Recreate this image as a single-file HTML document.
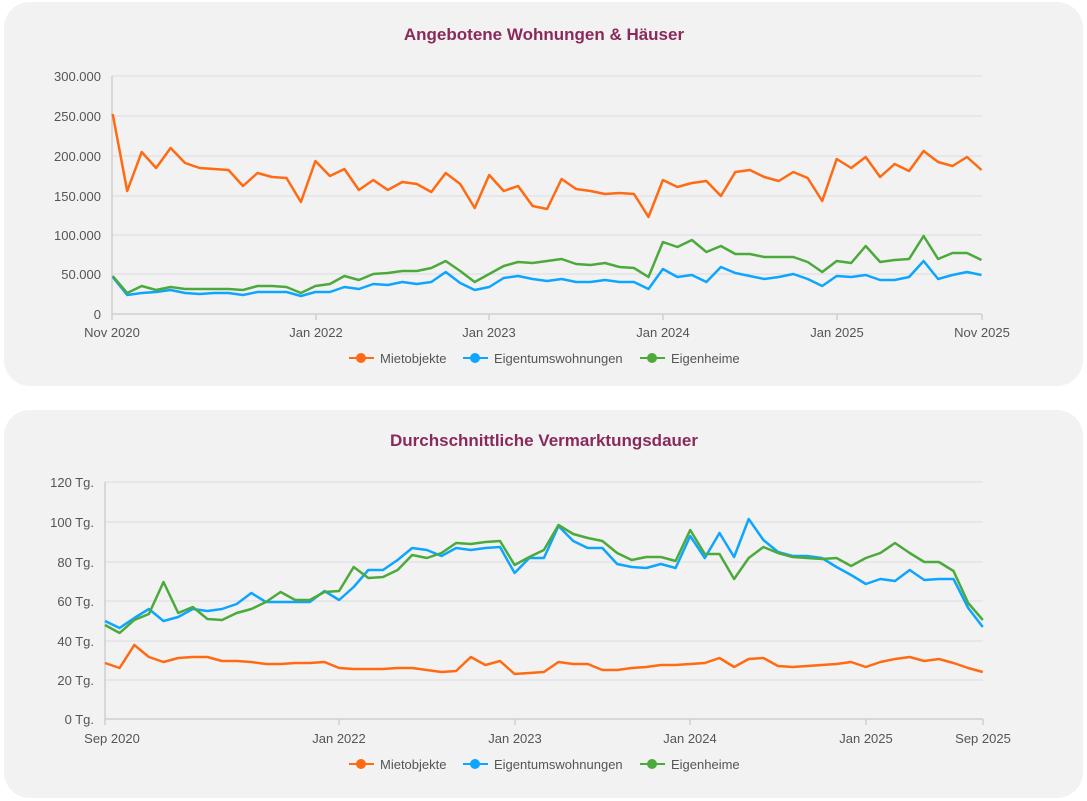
<!DOCTYPE html>
<html><head><meta charset="utf-8">
<style>
html,body{margin:0;padding:0;background:#fff;width:1087px;height:801px;overflow:hidden}
svg{display:block;font-family:"Liberation Sans",sans-serif}
</style></head><body>
<svg id="s" width="1087" height="801" viewBox="0 0 1087 801" xmlns="http://www.w3.org/2000/svg">
<rect x="4" y="2" width="1079" height="384" rx="26" fill="#f2f2f2"/>
<rect x="4" y="410" width="1079" height="388" rx="26" fill="#f2f2f2"/>
<text x="544" y="40" text-anchor="middle" font-size="17" font-weight="bold" fill="#8a2a5c">Angebotene Wohnungen &amp; Häuser</text>
<text x="544" y="446" text-anchor="middle" font-size="17" font-weight="bold" fill="#8a2a5c">Durchschnittliche Vermarktungsdauer</text>
<g id="g1" stroke="#dcdce4" stroke-width="1">
<line x1="112" x2="982" y1="76" y2="76"/><line x1="112" x2="982" y1="116" y2="116"/><line x1="112" x2="982" y1="156" y2="156"/><line x1="112" x2="982" y1="196" y2="196"/><line x1="112" x2="982" y1="235" y2="235"/><line x1="112" x2="982" y1="274" y2="274"/>
<line x1="105" x2="983" y1="482" y2="482"/><line x1="105" x2="983" y1="522" y2="522"/><line x1="105" x2="983" y1="562" y2="562"/><line x1="105" x2="983" y1="601" y2="601"/><line x1="105" x2="983" y1="641" y2="641"/><line x1="105" x2="983" y1="680" y2="680"/>
</g>
<g stroke="#cfcfcf" stroke-width="1.5">
<line x1="112" x2="982" y1="314" y2="314"/><line x1="112" x2="112" y1="76" y2="320"/>
<line x1="316" x2="316" y1="314" y2="320"/><line x1="489" x2="489" y1="314" y2="320"/><line x1="663" x2="663" y1="314" y2="320"/><line x1="837" x2="837" y1="314" y2="320"/><line x1="982" x2="982" y1="314" y2="320"/>
<line x1="105" x2="983" y1="719" y2="719"/><line x1="105" x2="105" y1="482" y2="725"/>
<line x1="339" x2="339" y1="719" y2="725"/><line x1="515" x2="515" y1="719" y2="725"/><line x1="690" x2="690" y1="719" y2="725"/><line x1="866" x2="866" y1="719" y2="725"/><line x1="983" x2="983" y1="719" y2="725"/>
</g>
<g font-size="13" fill="#555" text-anchor="end">
<text x="101" y="81">300.000</text><text x="101" y="121">250.000</text><text x="101" y="161">200.000</text><text x="101" y="201">150.000</text><text x="101" y="240">100.000</text><text x="101" y="279">50.000</text><text x="101" y="319">0</text>
<text x="94" y="487">120 Tg.</text><text x="94" y="527">100 Tg.</text><text x="94" y="567">80 Tg.</text><text x="94" y="606">60 Tg.</text><text x="94" y="646">40 Tg.</text><text x="94" y="685">20 Tg.</text><text x="94" y="724">0 Tg.</text>
</g>
<g font-size="13" fill="#555" text-anchor="middle">
<text x="112" y="337">Nov 2020</text><text x="316" y="337">Jan 2022</text><text x="489" y="337">Jan 2023</text><text x="663" y="337">Jan 2024</text><text x="837" y="337">Jan 2025</text><text x="982" y="337">Nov 2025</text>
<text x="112" y="743">Sep 2020</text><text x="339" y="743">Jan 2022</text><text x="515" y="743">Jan 2023</text><text x="690" y="743">Jan 2024</text><text x="866" y="743">Jan 2025</text><text x="983" y="743">Sep 2025</text>
</g>
<g id="leg1" font-size="13" fill="#555">
<line x1="349" x2="374" y1="358" y2="358" stroke="#ff6a13" stroke-width="2"/><circle cx="361" cy="358" r="5" fill="#ff6a13"/><text x="380" y="363">Mietobjekte</text>
<line x1="463" x2="488" y1="358" y2="358" stroke="#0ea5ff" stroke-width="2"/><circle cx="475" cy="358" r="5" fill="#0ea5ff"/><text x="494" y="363">Eigentumswohnungen</text>
<line x1="640" x2="665" y1="358" y2="358" stroke="#4caa3c" stroke-width="2"/><circle cx="652" cy="358" r="5" fill="#4caa3c"/><text x="671" y="363">Eigenheime</text>
</g>
<g font-size="13" fill="#555">
<line x1="349" x2="374" y1="764" y2="764" stroke="#ff6a13" stroke-width="2"/><circle cx="361" cy="764" r="5" fill="#ff6a13"/><text x="380" y="769">Mietobjekte</text>
<line x1="463" x2="488" y1="764" y2="764" stroke="#0ea5ff" stroke-width="2"/><circle cx="475" cy="764" r="5" fill="#0ea5ff"/><text x="494" y="769">Eigentumswohnungen</text>
<line x1="640" x2="665" y1="764" y2="764" stroke="#4caa3c" stroke-width="2"/><circle cx="652" cy="764" r="5" fill="#4caa3c"/><text x="671" y="769">Eigenheime</text>
</g>
<g id="lines" fill="none" stroke-width="2.5" stroke-linejoin="round"></g>
</svg>
<script>
var series=[
[112.7,14.48,"#ff6a13",[114,191,152,168,148,163,168,169,170,186,173,177,178,202,161,176,169,190,180,190,182,184,192,173,184,208,175,191,186,206,209,179,189,191,194,193,194,217,180,187,183,181,196,172,170,177,181,172,178,201,159,168,157,177,164,171,151,162,166,157,170]],
[112.7,14.48,"#0ea5ff",[277,295,293,292,290,293,294,293,293,295,292,292,292,296,292,292,287,289,284,285,282,284,282,272,283,290,287,278,276,279,281,279,282,282,280,282,282,289,269,277,275,282,267,273,276,279,277,274,279,286,276,277,275,280,280,277,261,279,275,272,275]],
[112.7,14.48,"#4caa3c",[276,293,286,290,287,289,289,289,289,290,286,286,287,293,286,284,276,280,274,273,271,271,268,261,271,282,274,266,262,263,261,259,264,265,263,267,268,277,242,247,240,252,246,254,254,257,257,257,262,272,261,263,246,262,260,259,236,259,253,253,260]],
[105,14.63,"#ff6a13",[663,668,645,657,662,658,657,657,661,661,662,664,664,663,663,662,668,669,669,669,668,668,670,672,671,657,665,661,674,673,672,662,664,664,670,670,668,667,665,665,664,663,658,667,659,658,666,667,666,665,664,662,667,662,659,657,661,659,663,668,672]],
[105,14.63,"#0ea5ff",[621,628,618,609,621,617,609,611,609,604,593,602,602,602,602,591,600,587,570,570,560,548,550,556,548,550,548,547,573,558,558,526,541,548,548,564,567,568,564,568,536,558,533,557,519,540,552,556,556,558,567,575,584,579,581,570,580,579,579,608,627]],
[105,14.63,"#4caa3c",[625,633,620,614,582,613,607,619,620,613,609,602,592,600,600,592,591,567,578,577,570,555,558,553,543,544,542,541,565,557,550,525,534,538,541,553,560,557,557,561,530,554,554,579,558,547,553,557,558,559,558,566,558,553,543,553,562,562,571,603,620]]
];
var g=document.getElementById("lines");
series.forEach(function(s){
 var pts=s[3].map(function(y,i){return (s[0]+s[1]*i).toFixed(1)+","+y}).join(" ");
 var p=document.createElementNS("http://www.w3.org/2000/svg","polyline");
 p.setAttribute("points",pts);p.setAttribute("stroke",s[2]);g.appendChild(p);
});
</script>
</body></html>
